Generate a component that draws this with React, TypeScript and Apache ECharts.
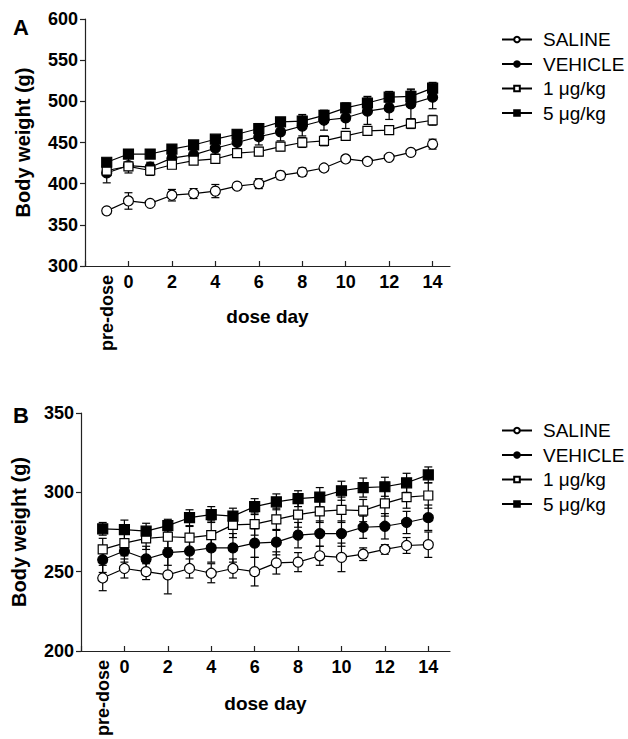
import React, { useEffect, useRef } from "react";
import * as echarts from "echarts";

// x positions: -1 = pre-dose, then dose days 0..14
const days = [-1, 0, 1, 2, 3, 4, 5, 6, 7, 8, 9, 10, 11, 12, 13, 14];
const groupNames = ["SALINE", "VEHICLE", "1 μg/kg", "5 μg/kg"];
const xTickLabels = ["0", "2", "4", "6", "8", "10", "12", "14"];
const preDoseLabel = "pre-dose";

// Panel A
const salineA = [367, 379, 376, 386, 388, 391, 397, 400, 410, 414, 419, 430, 427, 432, 438, 448];
const salineAErr = [2, 10, 2, 7, 6, 8, 4, 6, 5, 5, 2, 4, 2, 2, 4, 6];
const vehicleA = [413, 422, 420, 431, 435, 443, 450, 457, 463, 470, 477, 480, 488, 492, 497, 505];
const vehicleAErr = [12, 9, 6, 6, 6, 7, 8, 10, 11, 12, 12, 13, 16, 14, 18, 14];
const oneA = [416, 421, 416, 423, 428, 430, 437, 439, 445, 450, 452, 458, 464, 465, 473, 477];
const oneAErr = [6, 5, 6, 4, 4, 5, 4, 5, 5, 6, 6, 5, 5, 5, 6, 6];
const fiveA = [426, 436, 436, 442, 447, 454, 460, 467, 475, 476, 483, 492, 498, 505, 506, 516];
const fiveAErr = [4, 3, 3, 3, 3, 4, 5, 6, 5, 8, 6, 6, 8, 7, 8, 7];

// Panel B
const salineB = [246, 252, 250, 248, 252, 249, 252, 250, 255.5, 256, 260, 259, 261, 264, 266.5, 267];
const salineBErr = [8, 6, 5, 12, 6, 6, 6, 9, 7, 6, 6, 9, 4, 3, 5, 8];
const vehicleB = [257.5, 263, 258, 262, 263, 265, 265, 268, 268.6, 273, 274, 274, 278, 278.6, 281, 284];
const vehicleBErr = [8, 7, 8, 8, 9, 9, 9, 9, 8, 8, 8, 8, 7, 8, 7, 8];
const oneB = [264, 268, 271, 272, 271.5, 273, 279.5, 280, 283, 286, 288, 289, 288.5, 293, 297, 298];
const oneBErr = [7, 8, 7, 7, 7, 9, 8, 7, 7, 8, 7, 8, 7, 8, 7, 8];
const fiveB = [277, 276.5, 275.5, 279, 284, 286, 285, 291, 294, 296, 297, 301, 303, 303.5, 306, 311];
const fiveBErr = [4, 6, 5, 4, 5, 5, 5, 5, 5, 5, 6, 6, 6, 6, 6, 5];

const FONT = "'Liberation Sans', Arial, Helvetica, sans-serif";
const INK = "#000";

const markers = [
  { symbol: "circle", size: 10, fill: "#fff" },
  { symbol: "circle", size: 10, fill: "#000" },
  { symbol: "rect", size: 9, fill: "#fff" },
  { symbol: "rect", size: 10, fill: "#000" },
];

function panelSeries(gi: number, vals: number[][], errs: number[][]) {
  const out: any[] = [];
  vals.forEach((v, k) => {
    out.push({
      name: groupNames[k] + " err " + gi,
      type: "custom",
      xAxisIndex: gi * 2,
      yAxisIndex: gi,
      z: 2,
      silent: true,
      encode: { x: 0, y: 1 },
      data: days.map((d, i) => [d, v[i], errs[k][i]]),
      renderItem: (params: any, api: any) => {
        const x = api.value(0);
        const y = api.value(1);
        const e = api.value(2);
        const top = api.coord([x, y + e]);
        const bot = api.coord([x, y - e]);
        const hw = 4;
        const st = { stroke: INK, lineWidth: 1.2 };
        return {
          type: "group",
          children: [
            { type: "line", shape: { x1: top[0], y1: top[1], x2: bot[0], y2: bot[1] }, style: st },
            { type: "line", shape: { x1: top[0] - hw, y1: top[1], x2: top[0] + hw, y2: top[1] }, style: st },
            { type: "line", shape: { x1: bot[0] - hw, y1: bot[1], x2: bot[0] + hw, y2: bot[1] }, style: st },
          ],
        };
      },
    });
  });
  vals.forEach((v, k) => {
    out.push({
      name: groupNames[k],
      type: "line",
      xAxisIndex: gi * 2,
      yAxisIndex: gi,
      z: 4,
      data: days.map((d, i) => [d, v[i]]),
      symbol: markers[k].symbol,
      symbolSize: markers[k].size,
      showAllSymbol: true,
      itemStyle: { color: markers[k].fill, borderColor: INK, borderWidth: 1.2 },
      lineStyle: { color: INK, width: 1.2 },
    });
  });
  return out;
}

function xAxes(gi: number, max: number, nameGap: number) {
  return [
    {
      type: "value",
      gridIndex: gi,
      position: "bottom",
      min: -2,
      max,
      interval: 2,
      axisLine: { show: true, onZero: false, lineStyle: { color: "#222", width: 1.2 } },
      axisTick: { show: true, inside: true, length: 5, lineStyle: { color: "#222", width: 1.2 } },
      splitLine: { show: false },
      axisLabel: {
        color: INK,
        fontFamily: FONT,
        fontWeight: "bold",
        fontSize: 18,
        margin: 7,
        showMinLabel: true,
        showMaxLabel: false,
        formatter: (val: number) => {
          const s = String(val);
          return xTickLabels.indexOf(s) >= 0 ? s : "";
        },
      },
      name: "dose day",
      nameLocation: "middle",
      nameGap,
      nameTextStyle: { color: INK, fontFamily: FONT, fontWeight: "bold", fontSize: 19 },
    },
    {
      type: "value",
      gridIndex: gi,
      position: "bottom",
      min: -2,
      max,
      axisLine: { show: false, onZero: false },
      axisTick: { show: false },
      splitLine: { show: false },
      axisLabel: {
        customValues: [-1],
        rotate: 90,
        margin: 9,
        color: INK,
        fontFamily: FONT,
        fontWeight: "bold",
        fontSize: 18,
        formatter: () => preDoseLabel,
      },
    },
  ];
}

function yAxis(gi: number, min: number, max: number) {
  return {
    type: "value",
    gridIndex: gi,
    position: "left",
    min,
    max,
    interval: 50,
    axisLine: { show: true, onZero: false, lineStyle: { color: "#222", width: 1.2 } },
    axisTick: { show: true, inside: false, length: 5, lineStyle: { color: "#222", width: 1.2 } },
    splitLine: { show: false },
    axisLabel: { color: INK, fontFamily: FONT, fontWeight: "bold", fontSize: 18, margin: 7 },
    name: "Body weight (g)",
    nameLocation: "middle",
    nameRotate: 90,
    nameGap: 52,
    nameTextStyle: { color: INK, fontFamily: FONT, fontWeight: "bold", fontSize: 20 },
  };
}

function legend(top: number) {
  return {
    orient: "vertical",
    left: 496,
    top,
    itemWidth: 30,
    itemHeight: 7,
    itemGap: 5.5,
    data: groupNames,
    selectedMode: false,
    textStyle: { color: INK, fontFamily: FONT, fontSize: 19, padding: [0, 0, 0, 6] },
  };
}

export default function App() {
  const ref = useRef<HTMLDivElement>(null);
  useEffect(() => {
    if (!ref.current) return;
    const chart = echarts.init(ref.current, null, { renderer: "svg" });
    chart.setOption({
      animation: false,
      backgroundColor: "#fff",
      grid: [
        { left: 85, top: 19, width: 365, height: 247 },
        { left: 81, top: 413, width: 369, height: 241 },
      ],
      xAxis: [...xAxes(0, 14.8, 41), ...xAxes(1, 15, 43)],
      yAxis: [yAxis(0, 300, 600), yAxis(1, 200, 350)],
      legend: [legend(25), legend(416)],
      graphic: [
        { type: "text", left: 13, top: 16, style: { text: "A", font: `bold 22px ${FONT}`, fill: INK } },
        { type: "text", left: 13, top: 404, style: { text: "B", font: `bold 22px ${FONT}`, fill: INK } },
      ],
      series: [
        ...panelSeries(0, [salineA, vehicleA, oneA, fiveA], [salineAErr, vehicleAErr, oneAErr, fiveAErr]),
        ...panelSeries(1, [salineB, vehicleB, oneB, fiveB], [salineBErr, vehicleBErr, oneBErr, fiveBErr]),
      ],
    });
    return () => chart.dispose();
  }, []);
  return (
    <div
      ref={ref}
      style={{ position: "fixed", left: 0, top: 0, width: 628, height: 739, background: "#fff" }}
    />
  );
}
